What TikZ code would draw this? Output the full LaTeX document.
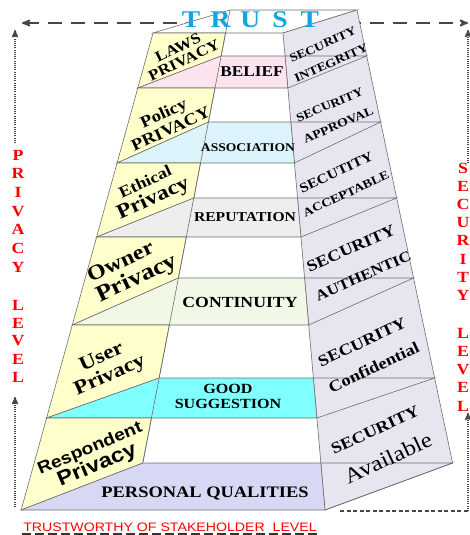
\documentclass[tikz,border=0pt]{standalone}
\usepackage{fontspec}
\setmainfont{Liberation Serif}[FakeStretch=1.15]
\newfontfamily\sansw{Liberation Sans}[FakeStretch=1.15]
\usetikzlibrary{calc}
\usetikzlibrary{arrows}

\definecolor{privyellow}{HTML}{FFFFCC}
\definecolor{beliefpink}{HTML}{FCE4EF}
\definecolor{assocblue}{HTML}{DDF3FB}
\definecolor{reputgray}{HTML}{EEEEEE}
\definecolor{contgreen}{HTML}{F2F8E6}
\definecolor{goodcyan}{HTML}{80FFFF}
\definecolor{perslav}{HTML}{D6D8F4}
\definecolor{secwall}{HTML}{E6E5F0}
\definecolor{edgegray}{HTML}{6E6E6E}
\definecolor{trustblue}{HTML}{12A5E3}
\definecolor{arrowgray}{HTML}{474747}

\begin{document}
\begin{tikzpicture}[x=1pt, y=-1pt, >=stealth',
  declare function={outl(\h)=153-0.2764*(\h-33); innl(\h)=230-0.1925*(\h-10);
    innr(\h)=283+0.088*(\h-33); outr(\h)=357+0.211*(\h-10);},
  panel/.style={draw=edgegray, line width=.6pt},
  tag/.style={inner sep=0pt, align=center},
  trustletter/.style={inner sep=0pt, anchor=base, text=trustblue, font=\bfseries\fontsize{24}{24}\selectfont},
  levelletter/.style={inner sep=0pt, text=red, font=\bfseries\fontsize{15.5}{15.5}\selectfont},
  trustline/.style={draw=arrowgray, line width=1.8pt, dash pattern=on 14pt off 9pt},
  dotline/.style={draw=arrowgray, line width=1.5pt, dash pattern=on 1pt off 1.2pt},
  fineline/.style={draw=arrowgray, line width=1.1pt, dash pattern=on 4pt off 2.5pt}]
\useasboundingbox (0,0) rectangle (470,535);
\coordinate (tl) at (22,23);
\coordinate (tr) at (468,23);
\draw[trustline, <->] (tl) -- (tr);
\filldraw[panel, fill=white] (153,33) -- (230,10) -- (357,10) -- (283,33) -- cycle;
\filldraw[panel, fill=secwall] (283,33) -- (357,10) -- ({outr(463)},463) -- (325,510) -- cycle;
\foreach \yt/\ym/\yb/\col in {33/56/88/beliefpink, 88/122/163/assocblue, 163/198/237/reputgray,
  237/278/325/contgreen, 325/378/418/goodcyan, 418/463/510/perslav} {
 \filldraw[panel, fill=privyellow] ({outl(\yt)},\yt) -- ({innl(\yt)},\yt) -- ({innl(\ym)},\ym) -- ({outl(\yb)},\yb) -- cycle;
 \filldraw[panel, fill=\col] ({outl(\yb)},\yb) -- ({innl(\ym)},\ym) -- ({innr(\ym)},\ym) -- ({innr(\yb)},\yb) -- cycle;
 \draw[panel] ({innr(\yb)},\yb) -- ({outr(\ym)},\ym) -- ({innr(\ym)},\ym);
}
\draw[panel] (230,10) -- ({innl(463)},463);

\foreach \l [count=\i] in {T,R,U,S,T}
 \node[trustletter] (trust\i) at ({161.3+29.7*\i},28) {\l};

\node[tag, rotate=26, font=\bfseries\fontsize{15}{14}\selectfont] (laws) at (181,54) {LAWS\\PRIVACY};
\node[tag, rotate=25, font=\bfseries\fontsize{16.5}{17}\selectfont] (policy) at (167,121) {Policy\\PRIVACY};
\node[tag, rotate=25, font=\bfseries\fontsize{16}{19}\selectfont] (ethical) at (150,192) {Ethical\\\fontsize{20.5}{19}\selectfont Privacy};
\node[tag, align=left, rotate=25, font=\bfseries\fontsize{21}{22}\selectfont] (owner) at (133,270) {Owner\\\fontsize{23}{22}\selectfont Privacy};
\node[tag, rotate=24, font=\bfseries\fontsize{20}{20}\selectfont] (user) at (106,367) {User\\Privacy};
\node[tag, rotate=23, font=\sansw\bfseries\fontsize{16.8}{19}\selectfont] (respondent) at (94,458) {Respondent\\\fontsize{20.5}{19}\selectfont Privacy};

\node[tag, font=\bfseries\fontsize{15}{15}\selectfont] (belief) at (252,72) {BELIEF};
\node[tag, font=\bfseries\fontsize{11.8}{12}\selectfont] (association) at (248,148) {ASSOCIATION};
\node[tag, font=\bfseries\fontsize{13.6}{14}\selectfont] (reputation) at (245,217) {REPUTATION};
\node[tag, font=\bfseries\fontsize{15.4}{16}\selectfont] (continuity) at (240,302) {CONTINUITY};
\node[tag, font=\bfseries\fontsize{14}{15}\selectfont] (good) at (228,396) {GOOD\\SUGGESTION};
\node[tag, font=\bfseries\fontsize{16}{16}\selectfont] (personal) at (205,493) {PERSONAL QUALITIES};

\node[tag, rotate=24, font=\bfseries\fontsize{12}{20}\selectfont] (integrity) at (327,54) {SECURITY\\INTEGRITY};
\node[tag, rotate=23, font=\bfseries\fontsize{12}{22}\selectfont] (approval) at (334,115) {SECURITY\\APPROVAL};
\node[tag, rotate=25, font=\bfseries\fontsize{13.5}{23}\selectfont] (acceptable) at (341,183) {SECUTITY\\\fontsize{12}{23}\selectfont ACCEPTABLE};
\node[tag, rotate=24, font=\bfseries\fontsize{16}{30}\selectfont] (authentic) at (357,262) {SECURITY\\\fontsize{14.8}{30}\selectfont AUTHENTIC};
\node[tag, rotate=25, font=\bfseries\fontsize{16}{28}\selectfont] (confidential) at (368,355) {SECURITY\\Confidential};
\node[tag, rotate=25, font=\bfseries\fontsize{16}{33}\selectfont] (available) at (382,445) {SECURITY\\\mdseries\fontsize{21.5}{33}\selectfont Available};

\foreach \l [count=\i] in {P,R,I,V,A,C,Y}
 \node[levelletter] (priv\i) at (18,{136.3+18.7*\i}) {\l};
\foreach \l [count=\i] in {L,E,V,E,L}
 \node[levelletter] (privlevel\i) at (18,{287+18*\i}) {\l};
\foreach \l [count=\i] in {S,E,C,U,R,I,T,Y}
 \node[levelletter] (sec\i) at (463,{149.8+18.2*\i}) {\l};
\foreach \l [count=\i] in {L,E,V,E,L}
 \node[levelletter] (seclevel\i) at (463,{314.7+18.3*\i}) {\l};

\coordinate (pa) at (15,143);
\coordinate (pb) at (15,30);
\coordinate (pc) at (15,507);
\coordinate (pd) at (15,397);
\coordinate (sa) at (468,163);
\coordinate (sb) at (468,30);
\coordinate (sc) at (468,511);
\coordinate (sd) at (468,413);
\coordinate (se) at (340,511);
\draw[dotline, ->] (pa) -- (pb);
\draw[dotline, ->] (pc) -- (pd);
\draw[dotline, ->] (sa) -- (sb);
\draw[dotline, ->] (sc) -- (sd);
\draw[fineline] (se) -- (sc);

\node[inner sep=0pt, text=red, font=\sansw\fontsize{12.3}{12.3}\selectfont] (stakeholder) at (170,527) {TRUSTWORTHY OF STAKEHOLDER~~LEVEL};
\coordinate (da) at (22,534);
\coordinate (db) at (320,534);
\draw[line width=3pt, dash pattern=on 9pt off 4pt, black!80] (da) -- (db);
\end{tikzpicture}
\end{document}
